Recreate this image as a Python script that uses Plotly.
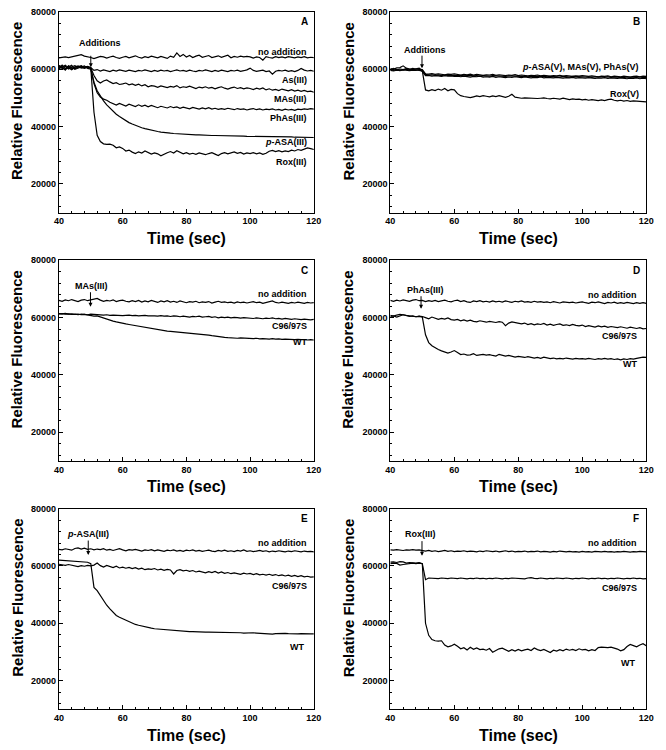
import plotly.graph_objects as go

# time points (sec), one reading per second
time_sec = list(range(40, 121))

# ---- panel A : trivalent arsenicals (fluorescence, x1000) ----
a_no_addition = [64.0, 64.2, 64.3, 64.1, 64.4, 64.6, 64.9, 65.1, 64.6, 64.4, 64.1,
                 63.7, 64.1, 64.5, 64.3, 63.9, 64.3, 64.6, 64.1, 63.8, 64.2,
                 64.5, 64.0, 64.3, 64.7, 64.2, 63.9, 64.4, 64.1, 64.6, 64.2,
                 64.0, 64.5, 64.1, 63.8, 64.6, 64.2, 65.7, 64.5, 65.2, 64.3,
                 64.8, 64.1, 64.6, 64.9, 64.2, 64.5, 64.8, 64.1, 64.4, 64.7,
                 64.2, 64.6, 64.9, 64.0, 64.5, 64.2, 64.6, 64.3, 64.5, 64.3,
                 63.9, 64.3, 64.1, 63.2, 64.4, 64.1, 63.9, 64.4, 64.1, 64.3,
                 64.0, 64.4, 64.1, 64.0, 64.3, 64.1, 64.4, 64.0, 64.2, 64.1]
a_as3 = [61.2, 60.6, 61.0, 60.1, 60.8, 61.3, 60.7, 61.0, 60.8, 60.9, 60.6,
         59.6, 59.9, 59.4, 59.8, 59.5, 59.2, 59.7, 59.4, 59.8, 59.5,
         59.3, 59.7, 59.5, 59.2, 59.6, 59.4, 59.8, 59.5, 59.2, 59.6,
         59.3, 59.7, 59.4, 59.6, 59.2, 59.5, 59.8, 59.4, 59.6, 59.3,
         59.7, 59.4, 59.2, 59.6, 59.4, 59.8, 59.5, 59.2, 59.6, 59.3,
         59.7, 59.5, 59.2, 59.6, 59.4, 59.7, 59.3, 59.5, 59.8, 60.4,
         59.6, 59.3, 59.5, 59.7, 59.2, 59.4, 58.3, 59.3, 59.6, 59.4,
         59.7, 59.3, 59.5, 59.2, 59.6, 60.3, 59.7, 59.4, 59.6, 59.3]
a_mas3 = [60.2, 60.9, 61.4, 60.5, 59.8, 60.6, 61.1, 60.4, 60.7, 61.0, 60.5,
          57.8, 56.0, 55.2, 55.9, 56.3, 55.6, 55.0, 55.3, 54.7, 54.9,
          55.2, 54.6, 54.9, 54.4, 54.8, 54.2, 54.6, 53.9, 54.3, 54.1,
          53.7, 54.2, 53.9, 53.6, 54.0, 53.8, 54.3, 53.5, 53.9, 53.7,
          54.1, 53.6, 53.3, 53.8, 53.5, 53.9, 53.4, 53.7, 53.2, 53.6,
          53.9, 53.4, 53.1, 53.5, 53.8, 53.3, 53.6, 53.2, 53.5, 53.3,
          52.9, 53.4, 53.1, 53.5, 52.8, 53.2, 52.7, 53.0, 52.6, 53.1,
          52.8, 52.5, 52.9, 52.4, 52.7, 52.3, 52.6, 52.2, 52.4, 52.0]
a_phas3 = [61.0, 60.3, 60.0, 61.2, 60.6, 60.2, 60.9, 61.3, 60.5, 60.8, 60.3,
           55.0, 51.8, 50.3, 49.6, 49.2, 48.5, 47.9, 47.5, 48.1, 47.6,
           47.2, 47.8, 47.3, 47.0, 47.6, 47.1, 47.5, 46.9, 47.4, 47.0,
           46.6, 47.1, 46.8, 46.5, 47.0, 46.6, 46.9, 46.4, 46.8, 46.5,
           46.2, 46.7, 46.4, 46.1, 46.5, 46.2, 46.6, 46.1, 46.4, 46.0,
           46.3, 46.0, 46.4, 46.1, 45.9, 46.3, 46.0, 46.2, 45.8, 46.1,
           46.3, 45.9, 46.2, 45.8, 46.1, 45.9, 46.2, 45.8, 46.0, 45.7,
           46.1, 45.8, 46.0, 45.7, 46.1, 45.9, 46.2, 46.0, 46.3, 46.1]
a_pasa3 = [60.5, 61.5, 60.2, 60.8, 61.4, 60.0, 60.5, 60.8, 61.2, 60.3, 60.0,
           55.5, 52.5, 50.6, 49.0, 47.6, 46.4, 45.3, 44.3, 43.5, 42.7,
           42.0, 41.4, 40.9, 40.4, 40.0, 39.6, 39.3, 39.0, 38.7, 38.5,
           38.3, 38.1, 37.9, 37.8, 37.7, 37.6, 37.5, 37.4, 37.3, 37.3,
           37.2, 37.2, 37.1, 37.1, 37.0, 37.0, 37.0, 36.9, 36.9, 36.9,
           36.8, 36.8, 36.8, 36.8, 36.7, 36.7, 36.7, 36.7, 36.6, 36.6,
           36.6, 36.6, 36.5, 36.5, 36.5, 36.5, 36.5, 36.4, 36.4, 36.4,
           36.4, 36.4, 36.4, 36.3, 36.3, 36.3, 36.3, 36.3, 36.3, 36.2]
a_rox3 = [61.3, 60.8, 59.7, 61.0, 60.1, 60.9, 61.1, 60.6, 60.3, 60.7, 60.4,
          45.0, 37.0, 34.8, 34.0, 33.8, 33.9, 33.5, 32.6, 32.9, 32.4,
          31.5, 31.8, 31.1, 30.6, 31.2, 30.8, 31.5, 31.0, 30.4, 30.8,
          30.5, 29.8, 30.4, 30.9, 31.3, 30.8, 31.6, 31.0, 30.5, 30.9,
          30.4, 30.7, 30.3, 30.8, 30.5, 30.2, 30.6, 30.9, 30.4, 29.9,
          30.6, 30.9, 30.5, 30.8, 31.2, 30.7, 31.0, 30.4, 30.8, 30.6,
          30.9, 30.5, 30.8, 30.3, 30.7, 31.4, 31.7, 31.3, 31.6, 31.2,
          31.5, 31.3, 31.8, 31.5, 32.0, 31.7, 32.2, 32.6, 32.3, 32.0]

# ---- panel B : pentavalent arsenicals ----
b_pasa5 = [60.2, 60.0, 60.5, 60.6, 61.2, 60.4, 60.1, 59.8, 60.2, 60.4, 59.6,
           58.2, 58.0, 58.1, 57.9, 58.0, 57.8, 58.0, 57.9, 57.8, 57.9,
           57.8, 57.9, 57.7, 57.8, 57.9, 57.7, 57.8, 57.6, 57.8, 57.7,
           57.6, 57.8, 57.7, 57.6, 57.7, 57.5, 57.7, 57.6, 57.5, 57.6,
           57.5, 57.6, 57.4, 57.6, 57.5, 57.4, 57.5, 57.6, 57.4, 57.5,
           57.4, 57.5, 57.3, 57.5, 57.4, 57.3, 57.5, 57.4, 57.3, 57.4,
           57.3, 57.4, 57.2, 57.4, 57.3, 57.2, 57.3, 57.4, 57.2, 57.3,
           57.2, 57.3, 57.1, 57.3, 57.2, 57.1, 57.2, 57.3, 57.1, 57.2]
b_mas5 = [59.6, 59.4, 59.7, 59.5, 59.8, 59.6, 59.5, 59.7, 59.6, 59.9, 59.2,
          57.8, 57.9, 57.6, 57.8, 57.7, 57.5, 57.8, 57.6, 57.7, 57.5,
          57.6, 57.4, 57.6, 57.5, 57.3, 57.5, 57.4, 57.6, 57.3, 57.4,
          57.3, 57.5, 57.2, 57.4, 57.3, 57.1, 57.3, 57.2, 57.4, 57.2,
          57.1, 57.3, 57.2, 57.0, 57.2, 57.1, 57.3, 57.0, 57.2, 57.1,
          57.0, 57.2, 57.1, 56.9, 57.1, 57.0, 57.2, 56.9, 57.1, 57.0,
          56.9, 57.1, 57.0, 56.8, 57.0, 56.9, 57.1, 56.8, 57.0, 56.9,
          56.8, 57.0, 56.9, 56.7, 56.9, 56.8, 57.0, 56.7, 56.9, 56.7]
b_phas5 = [59.9, 60.3, 59.8, 60.1, 59.9, 60.2, 60.0, 60.3, 60.1, 60.0, 59.9,
           58.4, 58.3, 58.5, 58.2, 58.4, 58.3, 58.1, 58.3, 58.2, 58.4,
           58.2, 58.0, 58.2, 58.1, 58.3, 58.0, 58.2, 58.1, 57.9, 58.1,
           58.0, 58.2, 57.9, 58.1, 58.0, 57.8, 58.0, 57.9, 58.1, 57.8,
           58.0, 57.9, 57.7, 57.9, 57.8, 58.0, 57.7, 57.9, 57.8, 57.6,
           57.8, 57.7, 57.9, 57.6, 57.8, 57.7, 57.5, 57.7, 57.6, 57.8,
           57.6, 57.5, 57.7, 57.6, 57.4, 57.6, 57.5, 57.7, 57.4, 57.6,
           57.5, 57.4, 57.6, 57.5, 57.3, 57.5, 57.6, 57.4, 57.6, 57.5]
b_rox5 = [59.8, 59.6, 59.9, 59.7, 59.8, 60.0, 59.7, 59.9, 59.8, 59.6, 59.4,
          52.8, 52.5, 52.9, 52.6, 53.1, 52.7, 53.3, 52.5, 53.0, 52.8,
          51.5, 50.8, 50.5, 50.2, 50.1, 50.4, 50.7, 50.5, 50.8, 50.6,
          50.4, 50.7, 50.5, 50.8, 50.4, 50.2, 50.6, 51.3, 50.3, 50.0,
          49.9, 50.0, 49.9, 50.0, 49.9, 49.8, 49.9, 50.0, 49.8, 49.7,
          49.9, 49.7, 49.6, 49.9, 49.6, 49.4, 49.7, 49.5, 49.6, 49.3,
          49.5, 49.2, 49.4, 49.3, 49.1, 49.3, 49.1, 49.4, 49.6, 49.2,
          49.0, 49.2, 48.9, 49.1, 48.8, 49.0, 48.9, 48.7, 48.8, 48.6]

# ---- panel C : MAs(III) ----
c_no_addition = [66.0, 65.7, 66.2, 65.9, 66.3, 66.0, 65.6, 66.1, 66.3, 65.9, 66.2,
                 66.5, 66.7, 66.1, 65.7, 66.0, 65.8, 66.2, 65.6, 65.9, 66.1,
                 65.7, 65.5, 65.9, 65.6, 66.0, 65.4, 65.8, 65.5, 66.0, 65.6,
                 65.3, 65.8, 65.5, 65.9, 65.4, 65.7, 65.3, 65.8, 65.5, 65.2,
                 65.6, 65.4, 65.7, 65.2, 65.5, 65.3, 65.6, 65.1, 65.4, 65.7,
                 65.3, 65.5, 65.2, 65.4, 65.1, 65.5, 65.2, 65.4, 65.1, 65.3,
                 65.6, 65.2, 65.4, 65.0, 65.3, 65.5, 65.8, 65.3, 65.1, 65.4,
                 65.2, 65.0, 65.3, 65.1, 65.4, 65.2, 65.0, 65.3, 65.1, 65.2]
c_c96 = [61.3, 61.4, 61.2, 61.3, 61.1, 61.2, 61.0, 61.2, 61.1, 61.0, 61.2,
         61.1, 60.9, 61.0, 60.9, 61.0, 60.8, 60.9, 60.8, 60.9, 60.7,
         60.8, 60.9, 60.7, 60.8, 60.6, 60.7, 60.8, 60.6, 60.7, 60.6,
         60.5, 60.7, 60.5, 60.6, 60.4, 60.6, 60.5, 60.3, 60.5, 60.4,
         60.2, 60.4, 60.3, 60.5, 60.2, 60.3, 60.4, 60.1, 60.3, 59.9,
         60.2, 60.0, 60.2, 59.9, 60.1, 60.0, 59.8, 60.0, 59.9, 60.0,
         59.7, 59.9, 59.8, 59.6, 59.8, 59.7, 59.9, 59.6, 59.7, 59.5,
         59.7, 59.6, 59.4, 59.6, 59.5, 59.3, 59.5, 59.4, 59.2, 59.4]
c_wt = [61.4, 61.3, 61.5, 61.2, 61.3, 61.1, 61.2, 61.0, 61.1, 60.9, 60.8,
        60.5, 60.6, 60.2, 59.8, 59.5, 59.1, 58.8, 58.5, 58.2, 58.0,
        57.8, 57.6, 57.4, 57.2, 57.0, 56.9, 56.6, 56.3, 56.1, 55.9,
        55.7, 55.6, 55.4, 55.3, 55.2, 55.1, 55.0, 54.9, 54.8, 54.8,
        54.7, 54.6, 54.5, 54.4, 54.3, 54.1, 53.9, 53.7, 53.5, 53.3,
        53.2, 53.1, 53.0, 52.9, 52.9, 52.8, 52.9, 52.8, 52.7, 52.8,
        52.7, 52.8, 52.6, 52.7, 52.6, 52.5, 52.7, 52.5, 52.6, 52.4,
        52.5, 52.4, 52.5, 52.3, 52.4, 52.3, 52.4, 52.2, 52.3, 52.2]

# ---- panel D : PhAs(III) ----
d_no_addition = [66.0, 65.7, 66.1, 65.8, 66.2, 66.0, 65.7, 66.1, 66.3, 65.9, 66.0,
                 65.6, 65.9, 65.7, 66.0, 65.6, 65.9, 66.1, 65.7, 65.5, 65.9,
                 66.1, 65.6, 65.9, 65.5, 65.3, 65.8, 65.6, 65.9, 65.5, 65.7,
                 65.4, 65.8, 65.5, 65.7, 65.4, 65.8, 65.5, 65.3, 65.7, 65.5,
                 65.8, 65.4, 65.6, 65.3, 65.7, 65.4, 65.6, 65.3, 65.5, 65.2,
                 65.6, 65.4, 65.1, 65.5, 65.3, 65.2, 65.4, 65.1, 65.3, 65.5,
                 65.2, 65.0, 65.4, 65.2, 65.5, 65.1, 64.9, 65.3, 65.1, 65.4,
                 65.0, 65.2, 65.0, 65.3, 65.1, 64.9, 65.2, 65.0, 65.2, 65.0]
d_c96 = [60.8, 60.5, 60.9, 61.1, 61.0, 60.7, 60.4, 60.6, 60.3, 60.5, 60.4,
         60.0, 59.6, 60.2, 59.8, 59.4, 59.7, 59.5, 59.9, 59.3, 59.1,
         59.4, 58.9, 59.2, 58.8, 59.1, 58.7, 58.5, 58.9, 58.6, 58.4,
         58.7, 58.5, 58.3, 58.6, 58.4, 57.2, 58.1, 58.5, 58.2, 58.0,
         57.8, 58.1, 57.6, 57.9, 57.5, 57.8, 57.6, 58.0, 57.4, 57.7,
         57.3, 57.6, 57.8, 57.3, 57.5, 57.2, 57.6, 57.3, 57.1, 57.4,
         56.9, 57.2, 57.0, 56.7, 57.1, 56.8, 57.0, 56.6, 56.9, 56.7,
         56.5, 56.8, 56.6, 56.3, 56.7, 56.5, 56.2, 56.5, 56.1, 56.2]
d_wt = [60.4, 60.6, 60.2, 60.7, 61.0, 60.8, 60.6, 60.5, 60.3, 60.4, 60.2,
        54.0, 51.3, 50.2, 49.4, 48.9, 48.4, 47.9, 47.6, 48.0, 48.5,
        47.8, 47.1, 47.3, 46.9, 47.0, 47.4, 46.8, 47.0, 47.2, 46.9,
        47.1, 46.8, 46.6, 47.2, 46.9, 46.6, 46.8, 46.4, 46.2, 46.5,
        46.3, 46.1, 46.4, 46.2, 45.9, 46.1, 45.8, 46.2, 45.9, 45.7,
        45.9, 45.6, 45.8, 45.6, 45.9, 45.7, 45.5, 45.8, 45.6, 45.7,
        45.5, 45.8, 45.6, 45.4, 45.7, 45.5, 45.8, 45.5, 45.7, 45.4,
        45.6, 45.3, 45.6, 45.4, 45.7, 45.5, 45.8, 46.0, 46.2, 46.1]

# ---- panel E : p-ASA(III) ----
e_no_addition = [65.8, 65.6, 66.0, 65.7, 65.5, 66.1, 66.3, 65.9, 66.2, 65.8, 66.0,
                 65.6, 65.9, 65.7, 66.0, 65.5, 65.8, 65.4, 65.7, 66.0, 65.6,
                 65.3, 65.7, 65.5, 65.8, 65.4, 65.2, 65.6, 65.4, 65.7, 65.3,
                 65.6, 65.4, 65.1, 65.5, 65.3, 65.6, 65.2, 65.4, 65.1, 65.5,
                 65.3, 65.6, 65.2, 65.4, 65.1, 65.3, 65.5, 65.2, 65.0, 65.4,
                 65.2, 65.5, 65.1, 65.3, 65.0, 65.4, 65.2, 65.6, 65.1, 65.3,
                 65.0, 65.2, 65.4, 65.1, 65.3, 64.9, 65.2, 65.0, 65.3, 65.1,
                 64.9, 65.2, 65.0, 65.3, 65.1, 64.9, 65.2, 65.0, 65.1, 64.9]
e_c96 = [60.6, 60.4, 60.2, 60.5, 60.3, 60.0, 59.8, 60.1, 59.9, 60.2, 60.0,
         60.3, 61.0, 60.1, 59.6, 60.2, 59.7, 59.4, 59.9, 59.3, 59.6,
         59.2, 59.5, 59.1, 59.4, 58.9, 59.2, 58.7, 59.0, 58.8, 59.1,
         58.6, 58.9, 58.5, 58.8, 58.6, 57.2, 58.4, 58.7, 58.3, 58.5,
         58.1, 58.4, 57.9, 58.2, 57.8, 57.6, 58.0, 57.7, 58.1, 57.5,
         57.9, 57.4, 57.7, 57.3, 57.6, 57.4, 57.1, 57.5, 57.2, 57.4,
         57.0, 57.3, 56.9, 57.1, 56.8, 57.1, 56.7, 57.0, 56.6, 56.9,
         56.5, 56.8, 56.4, 56.7, 56.3, 56.6, 56.2, 56.4, 56.1, 56.2]
e_wt = [62.0, 61.9, 62.0, 61.8, 61.7, 61.6, 61.5, 61.5, 61.4, 61.3, 60.8,
        52.5, 51.4, 49.6, 47.9, 46.3, 45.0, 43.8, 42.7, 42.1, 41.6,
        41.0, 40.4, 40.0, 39.6, 39.3, 39.0, 38.8, 38.5, 38.3, 38.1,
        38.0, 37.8, 37.7, 37.6, 37.5, 37.4, 37.3, 37.3, 37.2, 37.2,
        37.1, 37.1, 37.0, 37.0, 37.0, 36.9, 36.9, 36.9, 36.8, 36.9,
        36.8, 36.9, 36.8, 36.7, 36.8, 36.7, 36.7, 36.6, 36.7, 36.6,
        36.7, 36.6, 36.5, 36.6, 36.5, 36.4, 36.2, 36.4, 36.5, 36.4,
        36.5, 36.4, 36.3, 36.4, 36.3, 36.4, 36.3, 36.2, 36.3, 36.3]

# ---- panel F : Rox(III) ----
f_no_addition = [65.6, 65.5, 65.7, 65.6, 65.4, 65.6, 65.5, 65.7, 65.5, 65.6, 65.4,
                 65.2, 65.4, 65.1, 65.3, 65.0, 65.2, 65.4, 65.1, 65.3, 65.0,
                 65.2, 65.1, 65.3, 65.0, 65.2, 65.1, 64.9, 65.2, 65.0, 65.3,
                 65.1, 65.0, 65.2, 64.9, 65.1, 65.3, 65.0, 65.2, 64.9, 65.1,
                 65.0, 65.2, 64.9, 65.1, 65.0, 65.2, 64.9, 65.1, 65.0, 64.8,
                 65.1, 64.9, 65.2, 65.0, 64.9, 65.1, 64.9, 65.0, 64.8, 65.1,
                 64.9, 65.0, 64.8, 65.1, 65.0, 64.9, 65.1, 64.9, 65.0, 64.8,
                 65.0, 64.9, 65.1, 64.9, 64.8, 65.0, 64.9, 65.1, 64.9, 64.9]
f_c96 = [60.8, 61.0, 60.9, 60.3, 60.5, 60.7, 60.9, 61.0, 60.8, 61.0, 60.8,
         55.2, 55.8, 55.7, 55.8, 55.6, 55.8, 55.7, 55.6, 55.8, 55.7,
         55.6, 55.8, 55.7, 55.5, 55.7, 55.6, 55.8, 55.6, 55.7, 55.5,
         55.7, 55.6, 55.8, 55.6, 55.5, 55.7, 55.6, 55.8, 55.7, 55.6,
         55.7, 55.5, 55.8, 55.9, 55.7, 55.6, 55.8, 55.7, 55.5, 55.7,
         55.6, 55.8, 55.7, 55.6, 55.8, 55.6, 55.5, 55.7, 55.6, 55.8,
         55.7, 55.5, 55.7, 55.6, 55.8, 55.6, 55.7, 55.5, 55.7, 55.6,
         55.8, 55.6, 55.5, 55.7, 55.6, 55.8, 55.6, 55.7, 55.5, 55.6]
f_wt = [61.3, 61.4, 61.2, 61.5, 61.4, 61.0, 61.2, 61.1, 61.0, 61.2, 60.8,
        40.0, 35.8, 34.3, 33.9, 33.8, 33.9, 32.4, 31.8, 32.1, 32.7,
        32.0, 31.1, 31.5, 30.7, 31.6, 30.9, 31.4, 30.8, 31.0, 30.6,
        31.2, 29.9, 30.5, 31.1, 31.3, 30.6, 30.2, 30.8, 30.3, 30.9,
        30.4, 30.7, 31.0, 30.5, 31.4, 30.8, 30.5, 30.9, 30.2, 29.8,
        30.6, 30.3, 30.8, 30.4, 31.0, 30.6, 30.9, 30.5, 31.1, 30.7,
        30.9, 30.4, 30.8, 30.5, 31.5, 31.7, 31.6, 31.5, 31.7, 31.4,
        31.0, 30.4, 30.8, 31.9, 32.6, 32.2, 31.8, 32.4, 32.9, 32.2]

FONT = "Liberation Sans, Arial, sans-serif"

# panel: letter, series, labels (text, x, y in thousands), addition text, arrow head
panels = [
    dict(letter="A", series=[a_no_addition, a_as3, a_mas3, a_phas3, a_pasa3, a_rox3],
         labels=[("no addition", 118.5, 66.2), ("As(III)", 118.5, 56.2), ("MAs(III)", 118.5, 49.7),
                 ("PhAs(III)", 118.5, 43.0), ("<i>p</i>-ASA(III)", 118.5, 34.7), ("Rox(III)", 118.5, 27.5)],
         add=("Additions", 52.9, 69.3), arrow=(50.0, 60.7, 13)),
    dict(letter="B", series=[b_pasa5, b_mas5, b_phas5, b_rox5],
         labels=[("<i>p</i>-ASA(V), MAs(V), PhAs(V)", 118.5, 60.8), ("Rox(V)", 118.5, 51.4)],
         add=("Additions", 50.9, 66.7), arrow=(49.9, 60.4, 14)),
    dict(letter="C", series=[c_no_addition, c_c96, c_wt],
         labels=[("no addition", 118.5, 68.1), ("C96/97S", 118.5, 57.2), ("WT", 118.5, 51.4)],
         add=("MAs(III)", 50.3, 71.2), arrow=(49.9, 63.8, 16)),
    dict(letter="D", series=[d_no_addition, d_c96, d_wt],
         labels=[("no addition", 117.7, 67.9), ("C96/97S", 117.7, 53.7), ("WT", 117.7, 43.9)],
         add=("PhAs(III)", 50.9, 69.7), arrow=(49.6, 63.1, 14)),
    dict(letter="E", series=[e_no_addition, e_c96, e_wt],
         labels=[("no addition", 118.5, 67.9), ("C96/97S", 118.5, 53.1), ("WT", 117.5, 31.8)],
         add=("<i>p</i>-ASA(III)", 49.2, 71.0), arrow=(49.2, 63.8, 16)),
    dict(letter="F", series=[f_no_addition, f_c96, f_wt],
         labels=[("no addition", 117.7, 67.9), ("C96/97S", 117.7, 52.2), ("WT", 117.2, 26.1)],
         add=("Rox(III)", 49.4, 71.1), arrow=(49.9, 63.6, 16)),
]

W, H = 666, 750
# plot-area pixel boxes (left, right, top, bottom)
col_x = [(55, 315), (393, 654)]
row_y = [(7, 209), (257, 459), (507, 709)]

fig = go.Figure()
annotations = []
layout_axes = {}

for i, p in enumerate(panels):
    r, c = divmod(i, 2)
    n = i + 1
    xs = "" if n == 1 else str(n)
    xa, ya = "x" + xs, "y" + xs
    x0, x1 = col_x[c]
    y0, y1 = row_y[r]

    for s in p["series"]:
        fig.add_trace(go.Scatter(x=time_sec, y=[v * 1000 for v in s], mode="lines",
                                 line=dict(color="black", width=1.2), showlegend=False,
                                 xaxis=xa, yaxis=ya, hoverinfo="skip"))

    common = dict(showline=True, linecolor="black", linewidth=1, mirror=True,
                  ticks="inside", ticklen=4, tickcolor="black", showgrid=False, zeroline=False,
                  tickfont=dict(family=FONT, size=9, color="black", weight="bold"))
    layout_axes["xaxis" + xs] = dict(common, domain=[x0 / W, x1 / W], range=[40, 120],
                                     anchor=ya, tick0=40, dtick=20,
                                     minor=dict(ticks="inside", ticklen=2, dtick=4, tick0=40,
                                                tickcolor="black"))
    layout_axes["yaxis" + xs] = dict(common, domain=[1 - y1 / H, 1 - y0 / H], range=[10000, 80000],
                                     anchor=xa, tick0=0, dtick=20000, tickformat="d",
                                     minor=dict(ticks="inside", ticklen=2, dtick=4000, tick0=0,
                                                tickcolor="black"))

    # axis titles
    annotations.append(dict(xref="paper", yref="paper", x=(x0 - 43) / W, y=1 - (y0 + 90) / H,
                            xanchor="center", yanchor="middle",
                            text="<b>Relative Fluorescence</b>", textangle=-90, showarrow=False,
                            font=dict(family=FONT, size=15, color="black")))
    annotations.append(dict(xref="paper", yref="paper", x=(x0 + x1) / 2 / W, y=1 - (y1 + 26) / H,
                            xanchor="center", yanchor="middle",
                            text="<b>Time (sec)</b>", showarrow=False,
                            font=dict(family=FONT, size=16, color="black")))
    # panel letter
    annotations.append(dict(xref="paper", yref="paper", x=(x1 - 10) / W, y=1 - (y0 + 10) / H,
                            xanchor="center", yanchor="middle",
                            text="<b>" + p["letter"] + "</b>", showarrow=False,
                            font=dict(family=FONT, size=10, color="black")))
    # curve labels
    for txt, lx, ly in p["labels"]:
        annotations.append(dict(xref=xa, yref=ya, x=lx, y=ly * 1000, text="<b>" + txt + "</b>",
                                xanchor="right", yanchor="middle", showarrow=False,
                                font=dict(family=FONT, size=9, color="black")))
    # addition label and arrow
    txt, lx, ly = p["add"]
    annotations.append(dict(xref=xa, yref=ya, x=lx, y=ly * 1000, text="<b>" + txt + "</b>",
                            xanchor="center", yanchor="middle", showarrow=False,
                            font=dict(family=FONT, size=9, color="black")))
    hx, hy, alen = p["arrow"]
    annotations.append(dict(xref=xa, yref=ya, x=hx, y=hy * 1000, text="", showarrow=True,
                            ax=0, ay=-alen, arrowhead=2, arrowsize=0.8, arrowwidth=1,
                            arrowcolor="black"))

fig.update_layout(width=W, height=H, margin=dict(l=0, r=0, t=0, b=0),
                  plot_bgcolor="white", paper_bgcolor="white",
                  annotations=annotations, **layout_axes)

# drop the browser's default page margin so the figure sits at the window origin
fig.write_html("out.html", config={"displayModeBar": False},
               post_script="document.body.style.margin='0';")
